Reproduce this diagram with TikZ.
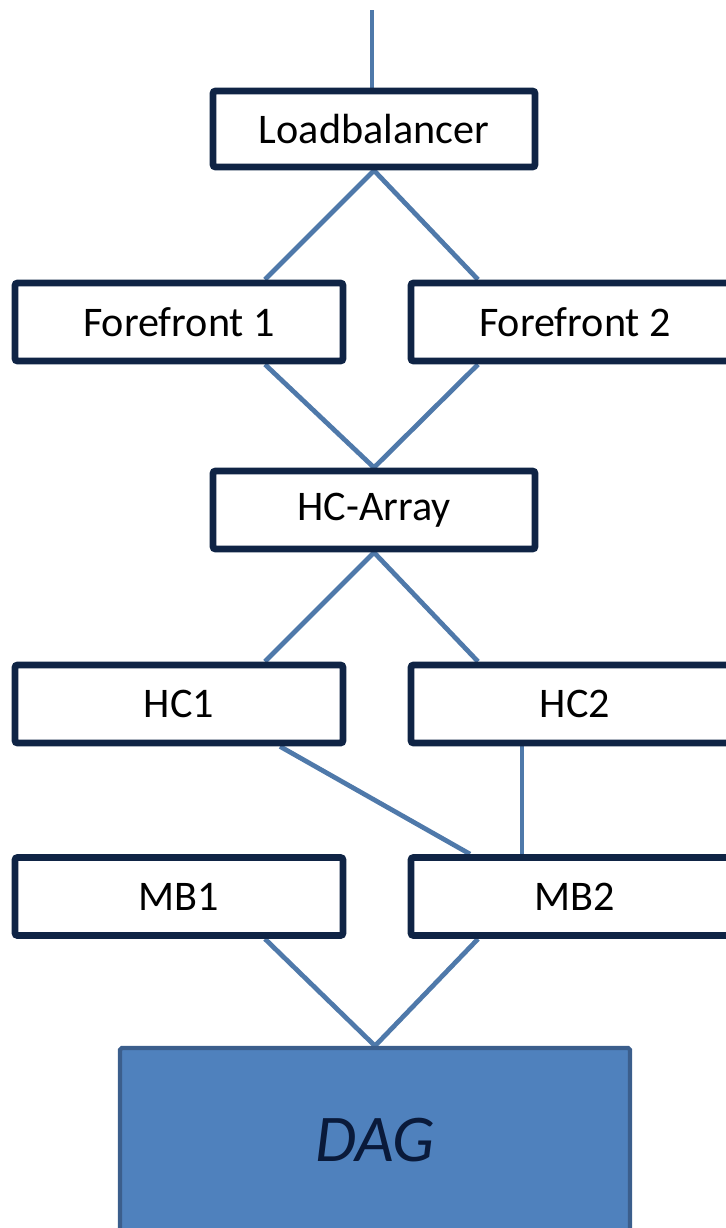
\documentclass[tikz,border=0pt]{standalone}
\usepackage{fontspec}
\setmainfont{Carlito}
\usetikzlibrary{positioning,calc,backgrounds}
\definecolor{Edge}{HTML}{0F2445}
\definecolor{Link}{HTML}{4F79AA}
\definecolor{StoreFill}{HTML}{4F81BD}
\definecolor{StoreEdge}{HTML}{3B5E8C}
\definecolor{StoreText}{HTML}{0A1A3A}

\begin{document}
\begin{tikzpicture}[
  box/.style={draw=Edge, line width=3.9pt, rounded corners=1.5pt, fill=white, text=black,
    inner sep=0pt, minimum width=6.56cm, minimum height=1.56cm, font=\fontsize{24}{28}\selectfont},
  store/.style={draw=StoreEdge, line width=2.4pt, rounded corners=1pt, fill=StoreFill, text=StoreText,
    inner sep=0pt, minimum width=10.2cm, minimum height=3.68cm, font=\fontsize{38}{44}\selectfont\itshape},
  link/.style={draw=Link, line width=2.7pt}
]
\useasboundingbox (0,0) rectangle (14.52,-24.56);
\coordinate (feed) at (7.44,-0.2);
\node[box, minimum width=6.44cm, minimum height=1.52cm] (lb) at (7.48,-2.58) {Loadbalancer};
\node[box] (ff1) at (3.58,-6.44) {Forefront 1};
\node[box] (ff2) at (11.5,-6.44) {Forefront 2};
\node[box, minimum width=6.44cm] (hca) at (7.48,-10.2) {HC-Array};
\node[box] (hc1) at (3.58,-14.08) {HC1};
\node[box] (hc2) at (11.5,-14.08) {HC2};
\node[box] (mb1) at (3.58,-17.93) {MB1};
\node[box] (mb2) at (11.5,-17.93) {MB2};
\node[store] (dag) at (7.5,-22.8) {DAG};
\begin{scope}[on background layer]
\draw[link] (feed) -- (feed |- lb.north);
\draw[link] (lb.south) -- ([xshift=1.72cm]ff1.north);
\draw[link] (lb.south) -- ([xshift=-1.94cm]ff2.north);
\draw[link] ([xshift=1.72cm]ff1.south) -- (hca.north);
\draw[link] ([xshift=-1.94cm]ff2.south) -- (hca.north);
\draw[link] (hca.south) -- ([xshift=1.72cm]hc1.north);
\draw[link] (hca.south) -- ([xshift=-1.94cm]hc2.north);
\draw[link] ([xshift=2.02cm]hc1.south) -- ([xshift=-2.1cm]mb2.north);
\draw[link] ([xshift=-1.06cm]hc2.south) -- ([xshift=-1.06cm]mb2.north);
\draw[link] ([xshift=1.72cm]mb1.south) -- (dag.north);
\draw[link] ([xshift=-1.94cm]mb2.south) -- (dag.north);
\end{scope}
\end{tikzpicture}
\end{document}
